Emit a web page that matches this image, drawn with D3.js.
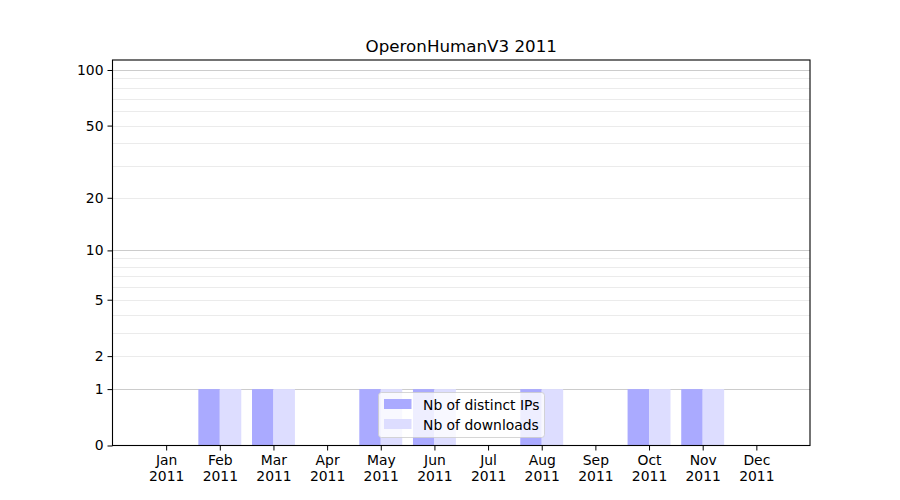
<!DOCTYPE html>
<html>
<head>
<meta charset="utf-8">
<script src="https://cdn.jsdelivr.net/npm/d3@7"></script>
<style>
  body { margin: 0; background: #fff; }
  svg { font-family: "DejaVu Sans", sans-serif; }
</style>
</head>
<body>
<svg id="chart" width="900" height="500"></svg>
<script>
const months = ["Jan","Feb","Mar","Apr","May","Jun","Jul","Aug","Sep","Oct","Nov","Dec"];
const year = "2011";
const distinctIPs = [0,1,1,0,1,1,0,1,0,1,1,0];
const downloads   = [0,1,1,0,1,1,0,1,0,1,1,0];
const yTicks = [0,1,2,5,10,20,50,100];
const majorGrid = [1,10,100];
const minorGrid = [2,3,4,5,6,7,8,9,20,30,40,50,60,70,80,90];
const title = "OperonHumanV3 2011";
const seriesNames = ["Nb of distinct IPs","Nb of downloads"];
const colors = ["#aaaaff","#ddddff"];

const svg = d3.select("#chart");
const L = 112.5, R = 810, T = 60, B = 445.5;
const FONT = '"DejaVu Sans", sans-serif';

const x = d3.scaleLinear().domain([-1, 12]).range([L, R]);
const y = d3.scaleSymlog().constant(1).domain([0, 113.2]).range([B, T]);

const g = svg.append("g");

// gridlines
g.selectAll(".minor").data(minorGrid).join("line")
  .attr("x1", L).attr("x2", R)
  .attr("y1", d => Math.round(y(d)) + 0.5).attr("y2", d => Math.round(y(d)) + 0.5)
  .attr("stroke", "#ebebeb").attr("stroke-width", 1);
g.selectAll(".major").data(majorGrid).join("line")
  .attr("x1", L).attr("x2", R)
  .attr("y1", d => Math.round(y(d)) + 0.5).attr("y2", d => Math.round(y(d)) + 0.5)
  .attr("stroke", "#cccccc").attr("stroke-width", 1);

// bars
const bw = 0.4;
g.selectAll(".ip").data(distinctIPs).join("rect")
  .attr("x", (d, i) => x(i - bw))
  .attr("width", x(bw) - x(0))
  .attr("y", d => y(d))
  .attr("height", d => y(0) - y(d))
  .attr("fill", colors[0]);
g.selectAll(".dl").data(downloads).join("rect")
  .attr("x", (d, i) => x(i))
  .attr("width", x(bw) - x(0))
  .attr("y", d => y(d))
  .attr("height", d => y(0) - y(d))
  .attr("fill", colors[1]);

// axes
const yAxis = d3.axisLeft(y).tickValues(yTicks).tickFormat(d3.format("d")).tickSize(5).tickPadding(4);
const yg = svg.append("g").attr("transform", `translate(${L},0)`).call(yAxis)
  .attr("font-family", FONT).attr("font-size", "13.9px");
yg.select(".domain").remove();
yg.selectAll("text").attr("fill", "#000");
yg.selectAll("line").attr("stroke", "#000");

const xAxis = d3.axisBottom(x).tickValues(d3.range(12)).tickFormat(i => months[i]).tickSize(5).tickPadding(5);
const xg = svg.append("g").attr("transform", `translate(0,${B})`).call(xAxis)
  .attr("font-family", FONT).attr("font-size", "13.9px");
xg.select(".domain").remove();
xg.selectAll("line").attr("stroke", "#000");
xg.selectAll("text").attr("fill", "#000")
  .each(function(i) {
    const t = d3.select(this);
    t.text(null);
    t.append("tspan").attr("x", 0).attr("dy", "0.71em").text(months[i]);
    t.append("tspan").attr("x", 0).attr("dy", "1.12em").text(year);
  });

// frame
svg.append("rect").attr("x", L).attr("y", T).attr("width", R - L).attr("height", B - T)
  .attr("fill", "none").attr("stroke", "#000").attr("stroke-width", 1.1);

// title
svg.append("text").attr("x", (L + R) / 2).attr("y", 51.5).attr("text-anchor", "middle")
  .attr("font-family", FONT).attr("font-size", "16.7px").attr("fill", "#000").text(title);

// legend
const lg = svg.append("g").attr("transform", "translate(378.5,392.5)");
lg.append("rect").attr("width", 166).attr("height", 45).attr("rx", 3)
  .attr("fill", "#fff").attr("fill-opacity", 0.8).attr("stroke", "#cccccc").attr("stroke-opacity", 0.8);
seriesNames.forEach((name, k) => {
  lg.append("rect").attr("x", 5.5).attr("y", 6.5 + k * 20).attr("width", 27.5).attr("height", 10)
    .attr("fill", colors[k]);
  lg.append("text").attr("x", 44.5).attr("y", 17 + k * 20).attr("font-family", FONT).attr("font-size", "13.9px")
    .attr("fill", "#000").text(name);
});
</script>
</body>
</html>
